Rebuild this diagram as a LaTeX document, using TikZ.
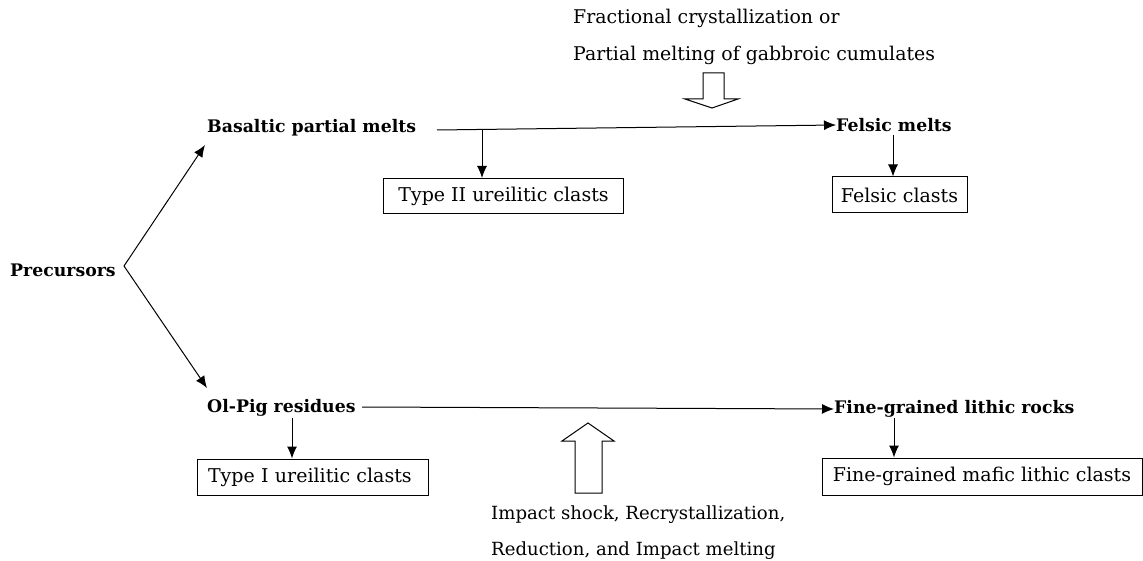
\documentclass[tikz,border=0pt]{standalone}
\usepackage{fontspec}
\setmainfont{DejaVu Serif}
\usetikzlibrary{arrows.meta}
\tikzset{
  lbl/.style={anchor=west,inner sep=0pt,font=\fontsize{17.3}{19}\selectfont\bfseries},
  note/.style={anchor=west,inner sep=0pt,font=\fontsize{18.9}{21}\selectfont},
  clast/.style={draw,line width=1pt,inner sep=0pt,font=\fontsize{19}{21}\selectfont},
  conn/.style={line width=1pt,-{Latex[length=12pt,width=10pt]}},
  hollow/.style={draw,line width=1pt,fill=white}
}
\begin{document}
\begin{tikzpicture}[x=1pt,y=-1pt]
\useasboundingbox (0,0) rectangle (1143,561);
% main labels
\node[lbl] (prec) at (10,270) {Precursors};
\node[lbl] (bas) at (207,128) {Basaltic partial melts};
\node[lbl] (ol) at (207,408) {Ol-Pig residues};
\node[lbl] (fm) at (836,125) {Felsic melts};
\node[lbl] (fg) at (834,409) {Fine-grained lithic rocks};
% boxes
\node[clast,minimum width=240pt,minimum height=35pt] (t2) at (503.5,196) {Type II ureilitic clasts};
\node[clast,minimum width=135pt,minimum height=36pt] (fc) at (899.5,195) {Felsic clasts};
\node[clast,minimum width=231pt,minimum height=36pt,text width=209pt,align=left] (t1) at (312.5,477) {Type I ureilitic clasts};
\node[clast,minimum width=320pt,minimum height=37pt] (fmc) at (982,476.5) {Fine-grained mafic lithic clasts};
% notes
\node[note] (n1) at (573,18) {Fractional crystallization or};
\node[note] (n2) at (573,55) {Partial melting of gabbroic cumulates};
\node[note,font=\fontsize{18.1}{20}\selectfont] (n3) at (491,515) {Impact shock, Recrystallization,};
\node[note,font=\fontsize{18.1}{20}\selectfont] (n4) at (491,551) {Reduction, and Impact melting};
% fork
\coordinate (v) at (124,266);
\draw[conn] (v) -- (205,145);
\draw[conn] (v) -- (207,388);
% horizontal flows
\coordinate (b1) at (437,130);
\coordinate (b2) at (482,129.5);
\draw[conn] (b1) -- (fm.west);
\draw[conn] (b2) -- (b2 |- t2.north);
\coordinate (o1) at (362,407);
\draw[conn] (o1) -- (fg.west);
\coordinate (fmd) at (893,135);
\draw[conn] (fmd) -- (fmd |- fc.north);
\coordinate (old) at (292,418);
\draw[conn] (old) -- (old |- t1.north);
\coordinate (fgd) at (894,418);
\draw[conn] (fgd) -- (fgd |- fmc.north);
% hollow arrows
\draw[hollow] (703,73) -- (724,73) -- (724,99) -- (738,99) -- (712,108) -- (685,99) -- (703,99) -- cycle;
\draw[hollow] (575,493) -- (602,493) -- (602,441) -- (614,441) -- (588,423) -- (562,441) -- (575,441) -- cycle;
\end{tikzpicture}
\end{document}
